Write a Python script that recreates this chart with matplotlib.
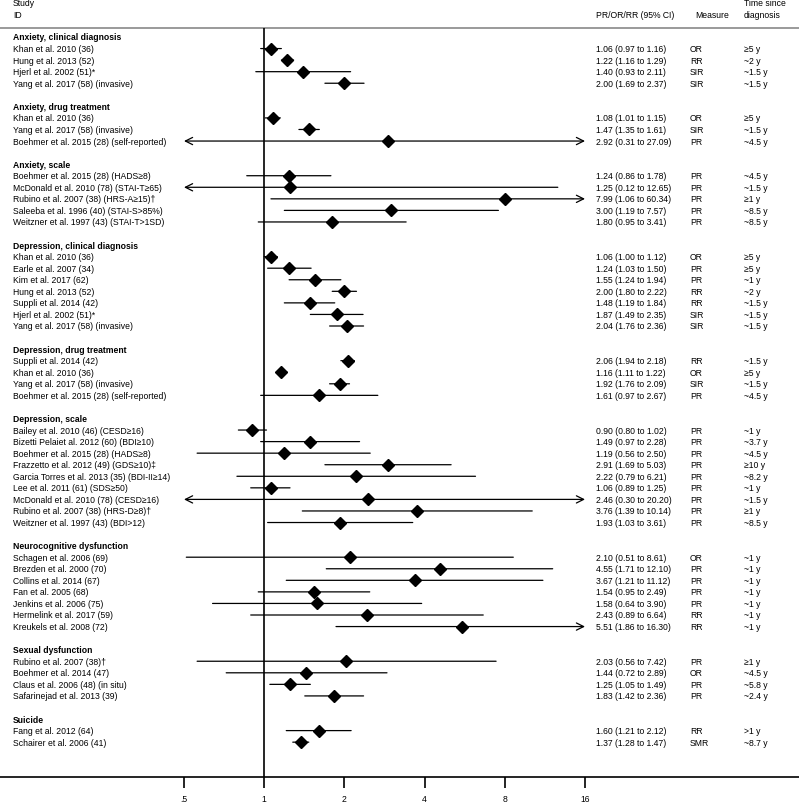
import matplotlib
matplotlib.use("Agg")
import matplotlib.pyplot as plt
from matplotlib.transforms import blended_transform_factory

plt.rcParams['font.family'] = ['Liberation Sans', 'DejaVu Sans']

# ---------------- data ----------------
groups = [
    "Anxiety, clinical diagnosis",
    "Anxiety, drug treatment",
    "Anxiety, scale",
    "Depression, clinical diagnosis",
    "Depression, drug treatment",
    "Depression, scale",
    "Neurocognitive dysfunction",
    "Sexual dysfunction",
    "Suicide",
]

studies = [
    ["Khan et al. 2010 (36)", "Hung et al. 2013 (52)", "Hjerl et al. 2002 (51)*",
     "Yang et al. 2017 (58) (invasive)"],
    ["Khan et al. 2010 (36)", "Yang et al. 2017 (58) (invasive)",
     "Boehmer et al. 2015 (28) (self-reported)"],
    ["Boehmer et al. 2015 (28) (HADS≥8)", "McDonald et al. 2010 (78) (STAI-T≥65)",
     "Rubino et al. 2007 (38) (HRS-A≥15)†", "Saleeba et al. 1996 (40) (STAI-S>85%)",
     "Weitzner et al. 1997 (43) (STAI-T>1SD)"],
    ["Khan et al. 2010 (36)", "Earle et al. 2007 (34)", "Kim et al. 2017 (62)",
     "Hung et al. 2013 (52)", "Suppli et al. 2014 (42)", "Hjerl et al. 2002 (51)*",
     "Yang et al. 2017 (58) (invasive)"],
    ["Suppli et al. 2014 (42)", "Khan et al. 2010 (36)", "Yang et al. 2017 (58) (invasive)",
     "Boehmer et al. 2015 (28) (self-reported)"],
    ["Bailey et al. 2010 (46) (CESD≥16)", "Bizetti Pelaiet al. 2012 (60) (BDI≥10)",
     "Boehmer et al. 2015 (28) (HADS≥8)", "Frazzetto et al. 2012 (49) (GDS≥10)‡",
     "Garcia Torres et al. 2013 (35) (BDI-II≥14)", "Lee et al. 2011 (61) (SDS≥50)",
     "McDonald et al. 2010 (78) (CESD≥16)", "Rubino et al. 2007 (38) (HRS-D≥8)†",
     "Weitzner et al. 1997 (43) (BDI>12)"],
    ["Schagen et al. 2006 (69)", "Brezden et al. 2000 (70)", "Collins et al. 2014 (67)",
     "Fan et al. 2005 (68)", "Jenkins et al. 2006 (75)", "Hermelink et al. 2017 (59)",
     "Kreukels et al. 2008 (72)"],
    ["Rubino et al. 2007 (38)†", "Boehmer et al. 2014 (47)",
     "Claus et al. 2006 (48) (in situ)", "Safarinejad et al. 2013 (39)"],
    ["Fang et al. 2012 (64)", "Schairer et al. 2006 (41)"],
]

estimates = [
    [1.06, 1.22, 1.40, 2.00],
    [1.08, 1.47, 2.92],
    [1.24, 1.25, 7.99, 3.00, 1.80],
    [1.06, 1.24, 1.55, 2.00, 1.48, 1.87, 2.04],
    [2.06, 1.16, 1.92, 1.61],
    [0.90, 1.49, 1.19, 2.91, 2.22, 1.06, 2.46, 3.76, 1.93],
    [2.10, 4.55, 3.67, 1.54, 1.58, 2.43, 5.51],
    [2.03, 1.44, 1.25, 1.83],
    [1.60, 1.37],
]

lower = [
    [0.97, 1.16, 0.93, 1.69],
    [1.01, 1.35, 0.31],
    [0.86, 0.12, 1.06, 1.19, 0.95],
    [1.00, 1.03, 1.24, 1.80, 1.19, 1.49, 1.76],
    [1.94, 1.11, 1.76, 0.97],
    [0.80, 0.97, 0.56, 1.69, 0.79, 0.89, 0.30, 1.39, 1.03],
    [0.51, 1.71, 1.21, 0.95, 0.64, 0.89, 1.86],
    [0.56, 0.72, 1.05, 1.42],
    [1.21, 1.28],
]

upper = [
    [1.16, 1.29, 2.11, 2.37],
    [1.15, 1.61, 27.09],
    [1.78, 12.65, 60.34, 7.57, 3.41],
    [1.12, 1.50, 1.94, 2.22, 1.84, 2.35, 2.36],
    [2.18, 1.22, 2.09, 2.67],
    [1.02, 2.28, 2.50, 5.03, 6.21, 1.25, 20.20, 10.14, 3.61],
    [8.61, 12.10, 11.12, 2.49, 3.90, 6.64, 16.30],
    [7.42, 2.89, 1.49, 2.36],
    [2.12, 1.47],
]

measures = [
    ["OR", "RR", "SIR", "SIR"],
    ["OR", "SIR", "PR"],
    ["PR", "PR", "PR", "PR", "PR"],
    ["OR", "PR", "PR", "RR", "RR", "SIR", "SIR"],
    ["RR", "OR", "SIR", "PR"],
    ["PR", "PR", "PR", "PR", "PR", "PR", "PR", "PR", "PR"],
    ["OR", "PR", "PR", "PR", "PR", "RR", "RR"],
    ["PR", "OR", "PR", "PR"],
    ["RR", "SMR"],
]

times = [
    ["≥5 y", "~2 y", "~1.5 y", "~1.5 y"],
    ["≥5 y", "~1.5 y", "~4.5 y"],
    ["~4.5 y", "~1.5 y", "≥1 y", "~8.5 y", "~8.5 y"],
    ["≥5 y", "≥5 y", "~1 y", "~2 y", "~1.5 y", "~1.5 y", "~1.5 y"],
    ["~1.5 y", "≥5 y", "~1.5 y", "~4.5 y"],
    ["~1 y", "~3.7 y", "~4.5 y", "≥10 y", "~8.2 y", "~1 y", "~1.5 y", "≥1 y", "~8.5 y"],
    ["~1 y", "~1 y", "~1 y", "~1 y", "~1 y", "~1 y", "~1 y"],
    ["≥1 y", "~4.5 y", "~5.8 y", "~2.4 y"],
    [">1 y", "~8.7 y"],
]

tick_values = [0.5, 1, 2, 4, 8, 16]
tick_labels = [".5", "1", "2", "4", "8", "16"]

# ---------------- layout ----------------
W, H = 799, 803
FS = 6.2
row_px = 11.56
first_px = 38.0
axis_px = 778.0
left_px, right_px = 184.0, 585.0
px_per_oct = (right_px - left_px) / 5.0

fig = plt.figure(figsize=(W / 100, H / 100), dpi=100)
ax = fig.add_axes([0, (H - axis_px) / H, 1, axis_px / H])
ax.set_xscale('log', base=2)
xmin = 0.5 * 2 ** (-left_px / px_per_oct)
xmax = 16 * 2 ** ((W - right_px) / px_per_oct)
ax.set_xlim(xmin, xmax)


def px2row(p):
    return (p - first_px) / row_px


ax.set_ylim(px2row(axis_px), px2row(0))

for s in ['top', 'left', 'right']:
    ax.spines[s].set_visible(False)
ax.spines['bottom'].set_linewidth(1.2)
ax.set_yticks([])
ax.set_xticks(tick_values)
ax.set_xticklabels(tick_labels, fontsize=FS)
ax.minorticks_off()
ax.tick_params(axis='x', direction='out', length=8, width=1.2, pad=4)

tr = blended_transform_factory(ax.transAxes, ax.transData)
xt = lambda p: p / W

# header
ax.text(xt(13), px2row(4), "Study", transform=tr, fontsize=FS, va='center', ha='left')
ax.text(xt(13), px2row(15), "ID", transform=tr, fontsize=FS, va='center', ha='left')
ax.text(xt(596), px2row(15), "PR/OR/RR (95% CI)", transform=tr, fontsize=FS, va='center')
ax.text(xt(695), px2row(15), "Measure", transform=tr, fontsize=FS, va='center')
ax.text(xt(744), px2row(4), "Time since", transform=tr, fontsize=FS, va='center')
ax.text(xt(744), px2row(15), "diagnosis", transform=tr, fontsize=FS, va='center')
ax.axhline(px2row(29), color='#9a9a9a', lw=1.4)

# reference line at 1
ax.vlines(1, px2row(29), px2row(axis_px), color='black', lw=1.2)

lo_lim, hi_lim = 0.5, 16
row = 0
for g, name in enumerate(groups):
    ax.text(xt(13), row, name, transform=tr, fontsize=FS, va='center',
            fontweight='bold')
    row += 1
    for i, st in enumerate(studies[g]):
        est, lo, hi = estimates[g][i], lower[g][i], upper[g][i]
        lo_c, hi_c = max(lo, lo_lim), min(hi, hi_lim)
        lc, rc = lo < lo_lim, hi > hi_lim
        style = '<->' if (lc and rc) else ('<-' if lc else ('->' if rc else '-'))
        ax.annotate('', xy=(hi_c, row), xytext=(lo_c, row),
                    arrowprops=dict(arrowstyle=style, lw=0.9, color='black',
                                    shrinkA=0, shrinkB=0, mutation_scale=13))
        ax.plot([est], [row], marker='D', ms=6.6, color='black', ls='none', zorder=3)
        ax.text(xt(13), row, st, transform=tr, fontsize=FS, va='center')
        ax.text(xt(596), row, f"{est:.2f} ({lo:.2f} to {hi:.2f})", transform=tr,
                fontsize=FS, va='center')
        ax.text(xt(690), row, measures[g][i], transform=tr, fontsize=FS, va='center')
        ax.text(xt(744), row, times[g][i], transform=tr, fontsize=FS, va='center')
        row += 1
    row += 1

fig.savefig("out.png", dpi=100)
